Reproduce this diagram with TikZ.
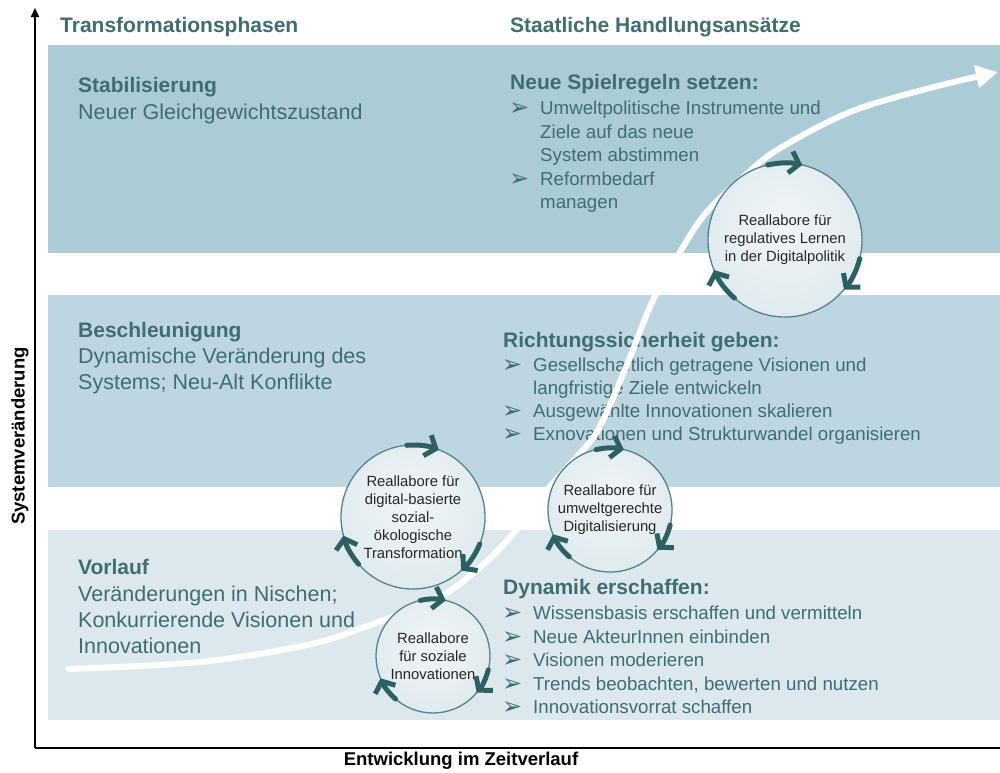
\documentclass[tikz,border=0pt]{standalone}
\usepackage{fontspec}
\setmainfont{Liberation Sans}
\newfontfamily\dejavu{DejaVu Sans}
\usetikzlibrary{arrows.meta}
\definecolor{bandtop}{RGB}{171,203,214}
\definecolor{bandmid}{RGB}{190,214,226}
\definecolor{bandlow}{RGB}{220,232,238}
\definecolor{tealtext}{RGB}{62,110,112}
\definecolor{arrowteal}{RGB}{45,96,96}
\definecolor{circin}{RGB}{240,245,247}
\definecolor{circmid}{RGB}{224,235,239}
\definecolor{circout}{RGB}{196,215,222}
\definecolor{circedge}{RGB}{82,132,136}
\pgfdeclareradialshading{labshade}{\pgfpoint{0bp}{6bp}}{color(0bp)=(circin); color(28bp)=(circmid); color(50bp)=(circout); color(60bp)=(circout)}
\newcommand{\labcycle}[3]{%
  \foreach \tipang in {77,-40,203}{%
    \pgfmathsetmacro{\cycA}{\tipang+#3+26}%
    \pgfmathsetmacro{\cycB}{\tipang+#3}%
    \draw[cyc] (#1.center) ++(\cycA:#2) arc[start angle=\cycA, end angle=\cycB, radius=#2];
  }}
\tikzset{
  hdr/.style={anchor=base west, inner sep=0, text=tealtext, font=\bfseries\fontsize{21}{25}\selectfont},
  hd/.style={anchor=base west, inner sep=0, text=tealtext, font=\bfseries\fontsize{21}{25}\selectfont},
  lt/.style={anchor=base west, inner sep=0, text=tealtext, font=\fontsize{21.5}{26}\selectfont},
  rt/.style={anchor=base west, inner sep=0, text=tealtext, font=\fontsize{18.7}{23}\selectfont},
  bul/.style={anchor=base west, inner sep=0, text=tealtext, font=\dejavu\fontsize{24}{26}\selectfont},
  lab/.style={circle, draw=circedge, line width=1.3pt, shading=labshade,
    align=center, inner sep=0, text=black!85, font=\fontsize{14.8}{18}\selectfont},
  cyc/.style={draw=arrowteal, line width=5pt, line cap=round, line join=round,
    -{Straight Barb[length=9pt,width=22pt]}},
  axisline/.style={draw=black, line width=1.8pt},
  axlabel/.style={inner sep=0, text=black, font=\bfseries\fontsize{18.5}{22}\selectfont},
}
\begin{document}
\begin{tikzpicture}[x=1pt,y=-1pt]
\useasboundingbox (0,0) rectangle (1000,772);
\fill[white] (0,0) rectangle (1000,772);
% bands
\fill[bandtop] (48,45) rectangle (1000,253);
\fill[bandmid] (48,295) rectangle (1000,487);
\fill[bandlow] (48,530) rectangle (1000,720);
% axes
\coordinate (origin) at (35,748);
\coordinate (ytop) at (35,8);
\coordinate (xend) at (1000,748);
\draw[axisline,-{Triangle[length=9pt,width=8pt]}] (origin) -- (ytop);
\draw[axisline] (origin) -- (xend);
\node[axlabel, rotate=90] (ylab) at (20,436) {Systemveränderung};
\node[axlabel] (xlab) at (461,761) {Entwicklung im Zeitverlauf};
% headers
\node[hdr] (h1) at (60,32) {Transformationsphasen};
\node[hdr] (h2) at (510,32) {Staatliche Handlungsansätze};
% left texts
\node[hd] (stab) at (78,92) {Stabilisierung};
\node[lt] (stabd) at (78,119) {Neuer Gleichgewichtszustand};
\node[hd] (besch) at (78,337) {Beschleunigung};
\node[lt] (beschd1) at (78,363) {Dynamische Veränderung des};
\node[lt] (beschd2) at (78,389) {Systems; Neu-Alt Konflikte};
\node[hd] (vorl) at (78,574) {Vorlauf};
\node[lt] (vorl1) at (78,601) {Veränderungen in Nischen;};
\node[lt] (vorl2) at (78,627) {Konkurrierende Visionen und};
\node[lt] (vorl3) at (78,653) {Innovationen};
% right top
\node[hd] (sp) at (510,89) {Neue Spielregeln setzen:};
\node[bul] (spb1) at (509,115) {➢};
\node[rt] (sp1) at (540,114) {Umweltpolitische Instrumente und};
\node[rt] (sp2) at (540,138) {Ziele auf das neue};
\node[rt] (sp3) at (540,161) {System abstimmen};
\node[bul] (spb2) at (509,186) {➢};
\node[rt] (sp4) at (540,185) {Reformbedarf};
\node[rt] (sp5) at (540,208) {managen};
% right middle
\node[hd] (rs) at (503,347) {Richtungssicherheit geben:};
\node[bul] (rsb1) at (502,372) {➢};
\node[rt] (rs1) at (533,371) {Gesellschaftlich getragene Visionen und};
\node[rt] (rs2) at (533,394) {langfristige Ziele entwickeln};
\node[bul] (rsb2) at (502,418) {➢};
\node[rt] (rs3) at (533,417) {Ausgewählte Innovationen skalieren};
\node[bul] (rsb3) at (502,441) {➢};
\node[rt] (rs4) at (533,440) {Exnovationen und Strukturwandel organisieren};
% right bottom
\node[hd] (dy) at (503,594) {Dynamik erschaffen:};
\node[bul] (dyb1) at (502,620) {➢};
\node[rt] (dy1) at (533,619) {Wissensbasis erschaffen und vermitteln};
\node[bul] (dyb2) at (502,644) {➢};
\node[rt] (dy2) at (533,643) {Neue AkteurInnen einbinden};
\node[bul] (dyb3) at (502,667) {➢};
\node[rt] (dy3) at (533,666) {Visionen moderieren};
\node[bul] (dyb4) at (502,691) {➢};
\node[rt] (dy4) at (533,690) {Trends beobachten, bewerten und nutzen};
\node[bul] (dyb5) at (502,714) {➢};
\node[rt] (dy5) at (533,713) {Innovationsvorrat schaffen};
% white S-curve
\coordinate (cs) at (68,669);
\coordinate (ce) at (998,72);
\draw[white, line width=6pt, line cap=round, -{Triangle[length=22pt,width=22pt]}]
  plot[smooth, tension=0.55] coordinates {(cs) (200,662) (307,645) (370,625) (440,597) (487,561)
  (517,529) (547,490) (574,460) (598,430) (626,367) (653,300) (680,252) (705,214) (740,180) (777,150)
  (850,112) (930,88) (ce)};
% circles
\node[lab, minimum size=154pt] (c1) at (785,240) {Reallabore für\\regulatives Lernen\\in der Digitalpolitik};
\node[lab, minimum size=144pt] (c2) at (413,517) {Reallabore für\\digital-basierte\\sozial-\\ökologische\\Transformation};
\node[lab, minimum size=124pt] (c3) at (610,510) {Reallabore für\\umweltgerechte\\Digitalisierung};
\node[lab, minimum size=114pt] (c4) at (433,656) {Reallabore\\für soziale\\Innovationen};
\labcycle{c1}{77pt}{0}
\labcycle{c2}{72pt}{-8}
\labcycle{c3}{62pt}{0}
\labcycle{c4}{57pt}{0}
\end{tikzpicture}
\end{document}
